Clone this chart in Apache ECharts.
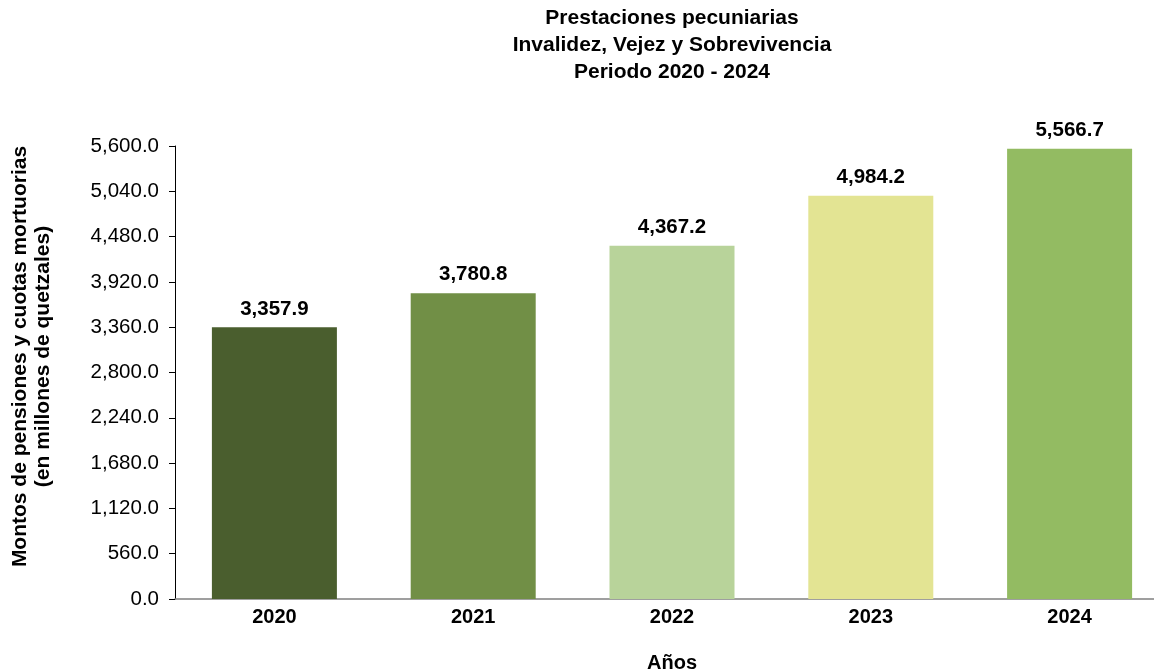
<!DOCTYPE html>
<html>
<head>
<meta charset="utf-8">
<script src="https://cdn.jsdelivr.net/npm/echarts@6/dist/echarts.min.js"></script>
<style>
html,body{margin:0;padding:0;background:#fff;}
#c{width:1154px;height:672px;}
</style>
</head>
<body>
<div id="c"></div>
<script>
const categories = ['2020', '2021', '2022', '2023', '2024'];
const values = [3357.9, 3780.8, 4367.2, 4984.2, 5566.7];
const barColors = ['#4a5e2e', '#718f46', '#b8d39a', '#e3e493', '#93bb62'];
const titleLines = ['Prestaciones pecuniarias', 'Invalidez, Vejez y Sobrevivencia', 'Periodo 2020 - 2024'];
const yAxisTitle = ['Montos de pensiones y cuotas mortuorias', '(en millones de quetzales)'];
const xAxisTitle = 'Años';

const fmt = v => v.toLocaleString('en-US', {minimumFractionDigits: 1, maximumFractionDigits: 1});
const FONT = '"Liberation Sans", Arial, Helvetica, sans-serif';

const chart = echarts.init(document.getElementById('c'), null, {renderer: 'canvas'});
chart.setOption({
  animation: false,
  backgroundColor: '#ffffff',
  textStyle: {fontFamily: FONT},
  title: {
    text: titleLines.join('\n'),
    left: 667, top: 0, textAlign: 'center',
    textStyle: {fontFamily: FONT, fontWeight: 'bold', fontSize: 21, lineHeight: 27, color: '#000'}
  },
  grid: {left: 175, top: 146, width: 994, height: 453, containLabel: false, outerBoundsMode: 'none'},
  xAxis: {
    type: 'category',
    data: categories,
    name: xAxisTitle,
    nameLocation: 'middle',
    nameGap: 54,
    nameTextStyle: {fontFamily: FONT, fontWeight: 'bold', fontSize: 20, color: '#000'},
    axisLine: {lineStyle: {color: '#808080', width: 1.5}},
    axisTick: {show: false},
    axisLabel: {fontFamily: FONT, fontWeight: 'bold', fontSize: 20, color: '#000', margin: 8}
  },
  yAxis: {
    type: 'value',
    min: 0, max: 5600, interval: 560,
    name: yAxisTitle.join('\n'),
    nameLocation: 'middle',
    nameGap: 120,
    nameTextStyle: {fontFamily: FONT, fontWeight: 'bold', fontSize: 21, color: '#000', lineHeight: 23, padding: [0, 0, 0, 32]},
    axisLine: {show: true, lineStyle: {color: '#000', width: 1}},
    axisTick: {show: true, length: 6, lineStyle: {color: '#000'}},
    splitLine: {show: false},
    axisLabel: {fontFamily: FONT, fontSize: 20.5, color: '#000', margin: 16, formatter: v => fmt(v)}
  },
  series: [{
    type: 'bar',
    data: values.map((v, i) => ({value: v, itemStyle: {color: barColors[i]}})),
    barWidth: 125,
    label: {
      show: true, position: 'top', distance: 8,
      fontFamily: FONT, fontWeight: 'bold', fontSize: 20.5, color: '#000',
      formatter: p => fmt(p.value)
    }
  }]
});
</script>
</body>
</html>
